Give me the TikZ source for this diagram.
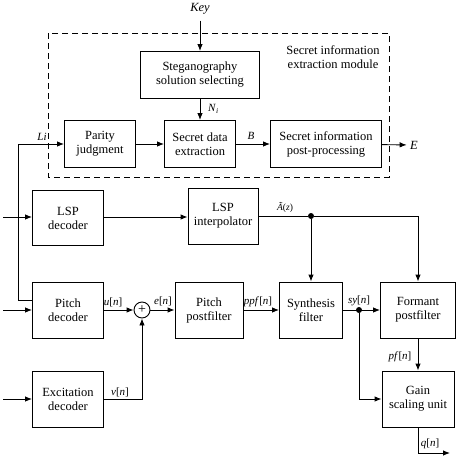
\documentclass[tikz,border=0pt]{standalone}
\usepackage{fontspec}
\setmainfont{Liberation Serif}
\usetikzlibrary{arrows.meta}

\begin{document}
\begin{tikzpicture}[
  x=1pt, y=-1pt,
  font=\fontsize{12.5}{14}\selectfont,
  blk/.style={rectangle, draw, line width=0.9pt, inner sep=0pt,
    minimum height=56pt, align=center},
  sig/.style={font=\fontsize{11}{12}\selectfont, inner sep=1pt},
  dot/.style={circle, fill, inner sep=0pt, minimum size=6pt},
  sumnode/.style={circle, draw, line width=0.9pt, inner sep=0pt,
    minimum size=16pt, font=\fontsize{14}{14}\selectfont},
  link/.style={line width=0.9pt, -{Latex[length=7pt,width=5.5pt]}},
  wire/.style={line width=0.9pt},
]
\useasboundingbox (0,0) rectangle (460,458);

% secret information extraction module
\draw[line width=0.9pt, dash pattern=on 6pt off 4pt] (48,33) rectangle (389,177);
\node[align=center] (modlbl) at (333,57) {Secret information\\extraction module};

\node[inner ysep=6pt] (keylbl) at (200,9) {\textit{Key}};
\node[blk, minimum width=119pt, minimum height=47pt] (stego) at (200,75) {Steganography\\solution selecting};
\node[blk, minimum width=71pt, minimum height=47pt] (parity) at (100,144) {Parity\\judgment};
\node[blk, minimum width=71pt, minimum height=47pt] (sde) at (200,144) {Secret data\\extraction};
\node[blk, minimum width=111pt, minimum height=47pt] (post) at (326,144) {Secret information\\post-processing};
\node (elbl) at (414,145) {\textit{E}};

% decoder
\node[blk, minimum width=71pt, minimum height=55pt] (lspdec) at (68,218) {LSP\\decoder};
\node[blk, minimum width=70pt] (lspint) at (223,216) {LSP\\interpolator};
\node[blk, minimum width=71pt] (pitch) at (68,310) {Pitch\\decoder};
\node[sumnode] (sum) at (142,310) {+};
\node[blk, minimum width=68pt] (ppost) at (209,310) {Pitch\\postfilter};
\node[blk, minimum width=63pt] (synth) at (311,310) {Synthesis\\filter};
\node[blk, minimum width=75pt] (formant) at (418,310) {Formant\\postfilter};
\node[blk, minimum width=71pt] (exc) at (68,399) {Excitation\\decoder};
\node[blk, minimum width=72pt] (gain) at (418,399) {Gain\\scaling unit};

\node[dot] (ja) at (311,216) {};
\node[dot] (js) at (359,310) {};

\coordinate (inlsp) at (3,217);
\coordinate (inpitch) at (3,310);
\coordinate (inexc) at (3,399);
\coordinate (qout) at (450,453);

% signal labels
\node[sig] at (42,137) {\textit{Li}};
\node[sig, anchor=west] at (207,109) {\textit{N}\textsubscript{\textit{i}}};
\node[sig] at (251,136) {\textit{B}};
\node[sig, font=\fontsize{9.5}{10}\selectfont] at (285,207) {\textit{Ã}(\textit{z})};
\node[sig] at (113,302) {\textit{u}[\textit{n}]};
\node[sig] at (163,301) {\textit{e}[\textit{n}]};
\node[sig] at (258,302) {\textit{ppf}[\textit{n}]};
\node[sig] at (359,301) {\textit{sy}[\textit{n}]};
\node[sig] at (120,392) {\textit{v}[\textit{n}]};
\node[sig] at (400,357) {\textit{pf}[\textit{n}]};
\node[sig] at (430,444) {\textit{q}[\textit{n}]};

\draw[link] (keylbl) -- (stego);
\draw[link] (stego) -- (sde);
\draw[link] (parity) -- (sde);
\draw[link] (sde) -- (post);
\draw[link] (post) -- (elbl);
\draw[link] ([yshift=10pt]pitch.west) -- ++(-14,0) |- (parity.west);

\draw[link] (inlsp) -- (lspdec.west |- inlsp);
\draw[link] (lspdec.east |- inlsp) -- (lspint.west |- inlsp);
\draw[wire] (lspint.east |- ja) -- (ja);
\draw[link] (ja) -| (formant.north);
\draw[link] (ja) -- (synth.north);
\draw[link] (inpitch) -- (pitch.west);
\draw[link] (pitch) -- (sum);
\draw[link] (inexc) -- (exc.west);
\draw[link] (exc.east) -| (sum.south);
\draw[link] (sum) -- (ppost);
\draw[link] (ppost) -- (synth);
\draw[link] (synth) -- (formant);
\draw[link] (js) |- (gain.west);
\draw[link] (formant) -- (gain);
\draw[link] (gain.south) |- (qout);
\end{tikzpicture}
\end{document}
